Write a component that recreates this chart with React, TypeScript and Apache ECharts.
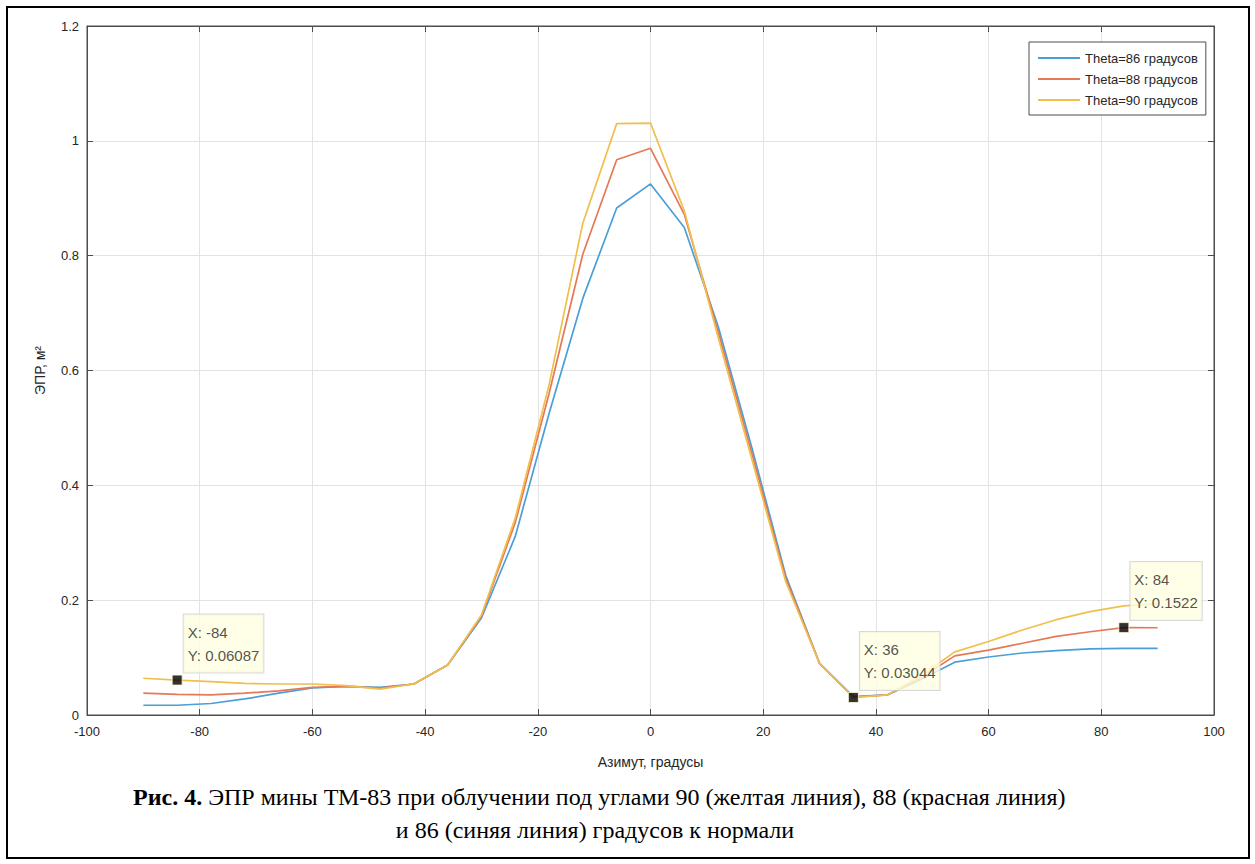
import React, { useEffect, useRef } from "react";
import * as echarts from "echarts";

const AZIMUTH = [-90, -84, -78, -72, -66, -60, -54, -48, -42, -36, -30, -24, -18, -12, -6, 0, 6, 12, 18, 24, 30, 36, 42, 48, 54, 60, 66, 72, 78, 84, 90];

const THETA86 = [0.017, 0.017, 0.020, 0.028, 0.038, 0.047, 0.050, 0.048, 0.054, 0.087, 0.169, 0.311, 0.525, 0.726, 0.883, 0.925, 0.849, 0.677, 0.465, 0.243, 0.090, 0.032, 0.035, 0.062, 0.092, 0.101, 0.108, 0.112, 0.115, 0.116, 0.116];
const THETA88 = [0.038, 0.036, 0.035, 0.038, 0.042, 0.048, 0.050, 0.047, 0.054, 0.087, 0.172, 0.335, 0.560, 0.803, 0.967, 0.987, 0.872, 0.668, 0.455, 0.238, 0.090, 0.031, 0.035, 0.065, 0.103, 0.113, 0.125, 0.137, 0.145, 0.1522, 0.152];
const THETA90 = [0.064, 0.06087, 0.058, 0.055, 0.054, 0.054, 0.051, 0.045, 0.054, 0.087, 0.174, 0.343, 0.575, 0.857, 1.030, 1.031, 0.878, 0.658, 0.445, 0.232, 0.090, 0.03044, 0.035, 0.068, 0.110, 0.128, 0.148, 0.166, 0.180, 0.190, 0.194];

const SERIES_NAMES = ["Theta=86 градусов", "Theta=88 градусов", "Theta=90 градусов"];
const SERIES_COLORS = ["#4a9fd8", "#e57856", "#f0bf4c"];

const TIP_X = [-84, 36, 84];
const TIP_Y = [0.06087, 0.03044, 0.1522];

const X_NAME = "Азимут, градусы";
const Y_NAME = "ЭПР, м²";
const CAPTION_BOLD = "Рис. 4.";
const CAPTION_1 = " ЭПР мины ТМ-83 при облучении под углами 90 (желтая линия), 88 (красная линия)";
const CAPTION_2 = "и 86 (синяя линия) градусов к нормали";

export default function App() {
  const ref = useRef<HTMLDivElement>(null);
  useEffect(() => {
    const chart = echarts.init(ref.current!, null, { renderer: "svg" });
    const font = "'Liberation Sans', Arial, sans-serif";
    const serif = "'Liberation Serif', 'Times New Roman', serif";
    const axisColor = "#4d4d4d";
    const pairs = (vals: number[]) => AZIMUTH.map((x, i) => [x, vals[i]]);
    const lineData = [THETA86, THETA88, THETA90];

    const secondaryAxis = {
      type: "value",
      axisLine: { show: true, onZero: false, lineStyle: { color: axisColor } },
      axisTick: { show: true, inside: true, length: 6, lineStyle: { color: axisColor } },
      axisLabel: { show: false },
      splitLine: { show: false },
    };

    chart.setOption({
      animation: false,
      backgroundColor: "#ffffff",
      textStyle: { fontFamily: font },
      grid: { left: 87, right: 41, top: 26, bottom: 149, show: true, borderColor: axisColor, borderWidth: 1 },
      legend: {
        data: SERIES_NAMES,
        orient: "vertical",
        left: 1029,
        top: 42,
        backgroundColor: "#ffffff",
        borderColor: axisColor,
        borderWidth: 1,
        padding: [9, 8, 8, 8],
        itemWidth: 42,
        itemHeight: 14,
        itemGap: 7,
        itemStyle: { opacity: 0 },
        textStyle: { fontSize: 13, color: "#262626", fontFamily: font, lineHeight: 14 },
      },
      xAxis: [
        {
          type: "value",
          min: -100,
          max: 100,
          interval: 20,
          position: "bottom",
          axisLine: { show: true, onZero: false, lineStyle: { color: axisColor } },
          axisTick: { show: true, inside: true, length: 6, lineStyle: { color: axisColor } },
          axisLabel: { color: "#262626", fontSize: 13, margin: 10 },
          splitLine: { show: true, lineStyle: { color: "#e3e3e3" } },
          name: X_NAME,
          nameLocation: "middle",
          nameGap: 40,
          nameTextStyle: { color: "#262626", fontSize: 14 },
        },
        { ...secondaryAxis, min: -100, max: 100, interval: 20, position: "top" },
      ],
      yAxis: [
        {
          type: "value",
          min: 0,
          max: 1.2,
          interval: 0.2,
          position: "left",
          axisLine: { show: true, onZero: false, lineStyle: { color: axisColor } },
          axisTick: { show: true, inside: true, length: 6, lineStyle: { color: axisColor } },
          axisLabel: { color: "#262626", fontSize: 13, margin: 8 },
          splitLine: { show: true, lineStyle: { color: "#e3e3e3" } },
          name: Y_NAME,
          nameLocation: "middle",
          nameGap: 40,
          nameTextStyle: { color: "#262626", fontSize: 14 },
        },
        { ...secondaryAxis, min: 0, max: 1.2, interval: 0.2, position: "right" },
      ],
      series: [
        ...lineData.map((vals, i) => ({
          name: SERIES_NAMES[i],
          type: "line",
          data: pairs(vals),
          symbol: "none",
          color: SERIES_COLORS[i],
          lineStyle: { width: 1.7, color: SERIES_COLORS[i] },
          z: 2 + i,
        })),
        {
          name: "tips",
          type: "scatter",
          data: TIP_X.map((x, i) => [x, TIP_Y[i]]),
          symbol: "rect",
          symbolSize: 10,
          itemStyle: { color: "#000000", borderColor: "#fffde0", borderWidth: 1 },
          z: 10,
          label: {
            show: true,
            position: [12, -60],
            formatter: (p: any) => `X: ${p.data[0]}\nY: ${p.data[1]}`,
            backgroundColor: "#ffffe1",
            borderColor: "#cfcfcf",
            borderWidth: 1,
            padding: [6, 4, 6, 4],
            fontSize: 15,
            lineHeight: 23,
            color: "#262626",
            fontFamily: font,
          },
        },
      ],
      graphic: [
        {
          type: "rect",
          silent: true,
          shape: { x: 7, y: 7, width: 1242, height: 851 },
          style: { fill: "none", stroke: "#000000", lineWidth: 2 },
        },
        {
          type: "text",
          x: 133,
          y: 797,
          style: {
            text: `{b|${CAPTION_BOLD}}{n|${CAPTION_1}}`,
            verticalAlign: "middle",
            fill: "#000",
            rich: {
              b: { fontFamily: serif, fontSize: 24, fontWeight: "bold", fill: "#000" },
              n: { fontFamily: serif, fontSize: 24, fill: "#000" },
            },
          },
        },
        {
          type: "text",
          x: 595,
          y: 830,
          style: {
            text: CAPTION_2,
            align: "center",
            verticalAlign: "middle",
            fontFamily: serif,
            fontSize: 24,
            fill: "#000",
          },
        },
      ],
    });
    return () => chart.dispose();
  }, []);
  return <div ref={ref} style={{ position: "absolute", left: 0, top: 0, width: 1255, height: 864 }} />;
}
